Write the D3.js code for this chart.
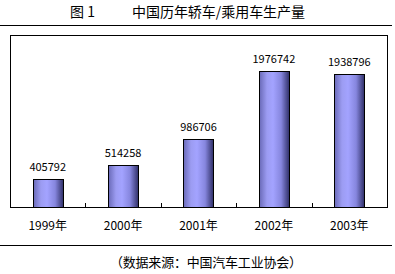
<!DOCTYPE html>
<html>
<head>
<meta charset="utf-8">
<script src="https://cdnjs.cloudflare.com/ajax/libs/d3/7.8.5/d3.min.js"></script>
<style>
  body { margin: 0; background: #fff; }
  text { font-family: "Noto Sans CJK SC", "DejaVu Sans", sans-serif; fill: #000; }
</style>
</head>
<body>
<div id="chart"></div>
<script>
// Chart data
var years = ["1999年", "2000年", "2001年", "2002年", "2003年"];
// bar heights as drawn in the picture (the 2000 bar stands taller than its label)
var barValues = [405792, 610000, 986706, 1976742, 1938796];
// printed value labels
var valueLabels = ["405792", "514258", "986706", "1976742", "1938796"];
var figureLabel = "图 1";
var titleText = "中国历年轿车/乘用车生产量";
var sourceText = "（数据来源：中国汽车工业协会）";

var svgWidth = 395;
var svgHeight = 274;

// plot box inside the frame
var box = { left: 10, top: 35, right: 387, bottom: 207 };

var svg = d3.select("#chart")
  .append("svg")
  .attr("width", svgWidth)
  .attr("height", svgHeight);

// cylinder-like shading for the bars
var grad = svg.append("defs").append("linearGradient")
  .attr("id", "barShade")
  .attr("x1", "0%").attr("x2", "100%")
  .attr("y1", "0%").attr("y2", "0%");
[["0%", "#6a6ab8"], ["25%", "#9c9cf2"], ["45%", "#a3a3ff"], ["72%", "#8686de"], ["100%", "#2e2e66"]]
  .forEach(function(s) {
    grad.append("stop").attr("offset", s[0]).attr("stop-color", s[1]);
  });

// title and separator lines
svg.append("text")
  .attr("x", 70).attr("y", 17)
  .style("font-size", "14px")
  .text(figureLabel);

svg.append("text")
  .attr("x", 132).attr("y", 17)
  .attr("textLength", 173)
  .style("font-size", "14px")
  .text(titleText);

svg.append("line")
  .attr("x1", 0).attr("x2", 392)
  .attr("y1", 25.5).attr("y2", 25.5)
  .attr("stroke", "#000");

svg.append("line")
  .attr("x1", 0).attr("x2", 392)
  .attr("y1", 245.5).attr("y2", 245.5)
  .attr("stroke", "#000");

// scales
var x = d3.scaleBand()
  .domain(years)
  .range([box.left, box.right])
  .paddingInner(0.6)
  .paddingOuter(0.3);

var xOuter = d3.scaleBand()
  .domain(years)
  .range([box.left, box.right]);

var y = d3.scaleLinear()
  .domain([0, 2500000])
  .range([box.bottom, box.top]);

// frame
svg.append("rect")
  .attr("x", box.left + 0.5)
  .attr("y", box.top + 0.5)
  .attr("width", box.right - box.left)
  .attr("height", box.bottom - box.top)
  .attr("fill", "none")
  .attr("stroke", "#000");

// category ticks between bars, pointing up
svg.selectAll(".tick-mark")
  .data(years.slice(1))
  .enter()
  .append("line")
  .attr("x1", d => Math.round(xOuter(d)) + 0.5)
  .attr("x2", d => Math.round(xOuter(d)) + 0.5)
  .attr("y1", box.bottom)
  .attr("y2", box.bottom - 4)
  .attr("stroke", "#000");

// bars
svg.selectAll(".bar")
  .data(barValues)
  .enter()
  .append("rect")
  .attr("class", "bar")
  .attr("x", (d, i) => Math.round(x(years[i])) + 0.5)
  .attr("y", d => Math.round(y(d)) + 0.5)
  .attr("width", Math.round(x.bandwidth()))
  .attr("height", d => box.bottom - Math.round(y(d)))
  .attr("fill", "url(#barShade)")
  .attr("stroke", "#000");

// value labels
svg.selectAll(".value")
  .data(barValues)
  .enter()
  .append("text")
  .attr("class", "value")
  .attr("x", (d, i) => x(years[i]) + x.bandwidth() / 2)
  .attr("y", d => y(d) - 8)
  .attr("text-anchor", "middle")
  .style("font-size", "11px")
  .text((d, i) => valueLabels[i]);

// category labels
svg.selectAll(".year")
  .data(years)
  .enter()
  .append("text")
  .attr("class", "year")
  .attr("x", d => xOuter(d) + xOuter.bandwidth() / 2)
  .attr("y", 230)
  .attr("text-anchor", "middle")
  .style("font-size", "12px")
  .text(d => d);

// source note
svg.append("text")
  .attr("x", 206).attr("y", 267)
  .attr("text-anchor", "middle")
  .attr("textLength", 192)
  .style("font-size", "13px")
  .text(sourceText);
</script>
</body>
</html>
